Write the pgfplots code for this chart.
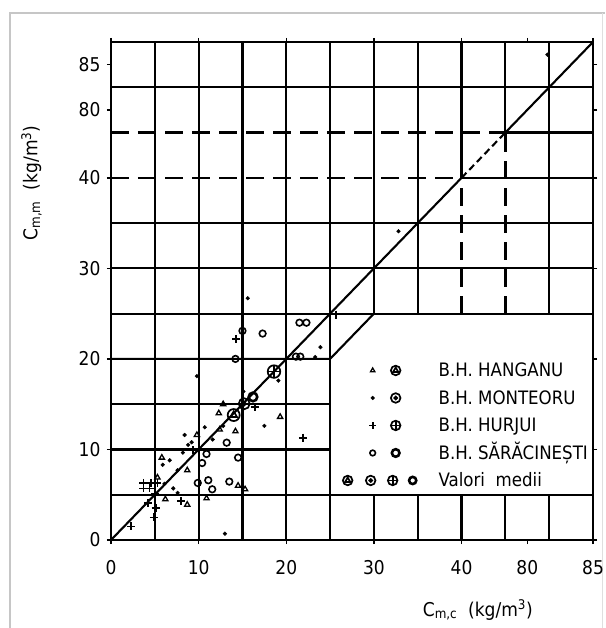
\documentclass[border=0pt]{standalone}
\usepackage{fontspec}
\setmainfont{DejaVu Sans Condensed}
\usepackage{pgfplots}
\pgfplotsset{compat=1.18}

\pgfdeclareplotmark{ctri}{%
  \draw (0,0) circle[radius=\pgfplotmarksize];
  \draw (90:0.62\pgfplotmarksize)--(210:0.62\pgfplotmarksize)--(330:0.62\pgfplotmarksize)--cycle;}
\pgfdeclareplotmark{cdot}{%
  \draw (0,0) circle[radius=\pgfplotmarksize];
  \fill (0,0) circle[radius=0.3\pgfplotmarksize];}
\pgfdeclareplotmark{cplus}{%
  \draw (0,0) circle[radius=\pgfplotmarksize];
  \draw (-\pgfplotmarksize,0)--(\pgfplotmarksize,0) (0,-\pgfplotmarksize)--(0,\pgfplotmarksize);}
\pgfdeclareplotmark{tcirc}{%
  \draw[line width=2.6pt] (0,0) circle[radius=\pgfplotmarksize];}

\tikzset{G/.style={line width=2.1pt, black},
         D/.style={line width=2.3pt, black, dash pattern=on 18pt off 9pt}}
\newcommand{\LT}[1]{\raisebox{0pt}[13.6pt][0pt]{#1}}

\begin{document}
\begin{tikzpicture}
\path[use as bounding box] (-111pt,-88pt) rectangle (494pt,540pt);
\draw[gray!45, line width=2pt] (-101pt,-88pt) -- (-101pt,527pt) -- (494pt,527pt);
\draw[gray!25, line width=1pt] (491pt,527pt) -- (491pt,-88pt);
\begin{axis}[
  at={(0,0)}, anchor=south west,
  scale only axis, width=482pt, height=498pt,
  xmin=0, xmax=55, ymin=0, ymax=55,
  xtick={0,10,20,30,40,47.5,55}, xticklabels={0,10,20,30,40,80,85},
  ytick={0,10,20,30,40,47.5,52.5}, yticklabels={0,10,20,30,40,80,85},
  tick align=outside, major tick length=4pt,
  tick style={line width=1.4pt, black},
  axis line style={line width=2.6pt},
  ticklabel style={font=\fontsize{19}{22}\selectfont},
  xticklabel style={anchor=center, yshift=-24pt},
  yticklabel style={xshift=-3pt},
  xlabel={C\textsubscript{m,c}\ \ (kg/m\textsuperscript{3})},
  ylabel={C\textsubscript{m,m}\ \ (kg/m\textsuperscript{3})},
  label style={font=\fontsize{19}{22}\selectfont},
  xlabel style={at={(axis description cs:0.761,0)}, anchor=center, yshift=-70pt},
  ylabel style={at={(axis description cs:-0.165,0.717)}, anchor=center},
  legend style={draw=none, fill=none, inner sep=0pt,
    at={(axis cs:26.3,19.8)}, anchor=north west,
    font=\fontsize{18.5}{22}\selectfont,
    row sep=8.4pt, column sep=2pt},
  legend cell align=left,
]
% grid
\draw[G] (axis cs:0,5)--(axis cs:55,5);
\draw[G] (axis cs:0,10)--(axis cs:25,10);
\draw[G] (axis cs:0,15)--(axis cs:25,15);
\draw[G] (axis cs:0,20)--(axis cs:25,20)--(axis cs:30,25);
\draw[G] (axis cs:0,25)--(axis cs:55,25);
\draw[G] (axis cs:0,30)--(axis cs:55,30);
\draw[G] (axis cs:0,35)--(axis cs:55,35);
\draw[D] (axis cs:0,40)--(axis cs:40,40);
\draw[G] (axis cs:40,40)--(axis cs:55,40);
\draw[D] (axis cs:0,45)--(axis cs:45,45);
\draw[G] (axis cs:45,45)--(axis cs:55,45);
\draw[G] (axis cs:0,50)--(axis cs:55,50);
\draw[G] (axis cs:5,0)--(axis cs:5,55);
\draw[G] (axis cs:10,0)--(axis cs:10,55);
\draw[G] (axis cs:15,0)--(axis cs:15,55);
\draw[G] (axis cs:20,0)--(axis cs:20,55);
\draw[G] (axis cs:25,0)--(axis cs:25,55);
\draw[G] (axis cs:30,0)--(axis cs:30,5);
\draw[G] (axis cs:30,25)--(axis cs:30,55);
\draw[G] (axis cs:35,0)--(axis cs:35,5);
\draw[G] (axis cs:35,25)--(axis cs:35,55);
\draw[G] (axis cs:40,0)--(axis cs:40,5);
\draw[D] (axis cs:40,25)--(axis cs:40,40);
\draw[G] (axis cs:40,40)--(axis cs:40,55);
\draw[G] (axis cs:45,0)--(axis cs:45,5);
\draw[D] (axis cs:45,25)--(axis cs:45,45);
\draw[G] (axis cs:45,45)--(axis cs:45,55);
\draw[G] (axis cs:50,0)--(axis cs:50,5);
\draw[G] (axis cs:50,25)--(axis cs:50,55);

% 1:1 line
\addplot[forget plot, black, line width=2.1pt] coordinates {(0,0) (40,40)};
\addplot[forget plot, black, line width=2.1pt, dash pattern=on 7pt off 4pt] coordinates {(40,40) (45,45)};
\addplot[forget plot, black, line width=2.1pt] coordinates {(45,45) (55,55)};

% B.H. Hanganu
\addplot[forget plot, only marks, mark=triangle, mark size=3pt, mark options={line width=1.3pt}] coordinates {
(12.8,15.0) (12.3,14.0) (9.8,11.6) (12.4,12.2) (14.2,12.0) (5.8,9.1) (8.7,7.7)
(5.3,6.9) (6.2,4.5) (8.7,3.9) (10.9,4.6) (14.5,6.0) (15.3,5.6) (19.3,13.6)};
% B.H. Monteoru
\addplot[forget plot, only marks, mark=*, mark size=1.9pt] coordinates {
(9.8,18.1) (15.1,16.4) (17.5,12.6) (19.1,17.6) (23.3,20.2) (23.9,21.3) (15.6,26.7)
(32.8,34.1) (49.8,53.6) (10.7,12.45) (8.4,11.6) (8.8,10.5) (12.8,12.6) (11.6,11.1)
(8.2,9.65) (9.2,10.8) (5.9,8.3) (6.7,8.8) (6.1,6.2) (7.1,5.7) (7.6,5.2) (13.0,0.7) (7.6,7.7)};
% B.H. Hurjui
\addplot[forget plot, only marks, mark=+, mark size=4pt, mark options={line width=1.7pt}] coordinates {
(14.3,22.2) (25.7,24.9) (16.4,14.7) (21.9,11.3) (9.35,9.9) (3.7,6.3) (4.6,6.3) (5.3,6.3)
(3.7,5.7) (4.4,5.7) (5.0,5.1) (4.2,4.1) (5.1,3.5) (4.9,2.5) (2.3,1.5) (8.0,4.3)};
% B.H. Saracinesti
\addplot[forget plot, only marks, mark=o, mark size=3.3pt, mark options={line width=1.6pt}] coordinates {
(15.0,23.1) (17.3,22.8) (21.5,24.0) (22.3,24.0) (14.2,20.0) (21.1,20.25) (21.6,20.25)
(13.2,10.75) (10.9,9.5) (14.5,9.1) (10.4,8.5) (9.9,6.3) (11.1,6.6) (11.55,5.6) (13.5,6.45)};
% mean values
\addplot[forget plot, only marks, mark=ctri, mark size=6pt, mark options={line width=1.7pt}] coordinates {(14.0,13.8)};
\addplot[forget plot, only marks, mark=cdot, mark size=5.5pt, mark options={line width=1.7pt}] coordinates {(15.2,15.05)};
\addplot[forget plot, only marks, mark=cplus, mark size=6.3pt, mark options={line width=1.7pt}] coordinates {(18.6,18.6)};
\addplot[forget plot, only marks, mark=tcirc, mark size=4.3pt] coordinates {(16.2,15.8)};

% legend
\addlegendimage{legend image code/.code={
  \draw[line width=1.3pt] plot[only marks, mark=triangle, mark size=2.5pt] coordinates {(0pt,0pt)};
  \draw[line width=1.7pt] plot[only marks, mark=ctri, mark size=4.8pt] coordinates {(23pt,0pt)};
  \path[draw=none] (-3pt,0pt)--(62pt,0pt);}}
\addlegendentry{\LT{B.H. HANGANU}}
\addlegendimage{legend image code/.code={
  \fill (0pt,0pt) circle[radius=1.9pt];
  \draw[line width=1.7pt] plot[only marks, mark=cdot, mark size=4.8pt] coordinates {(23pt,0pt)};
  \path[draw=none] (-3pt,0pt)--(62pt,0pt);}}
\addlegendentry{\LT{B.H. MONTEORU}}
\addlegendimage{legend image code/.code={
  \draw[line width=1.7pt] plot[only marks, mark=+, mark size=3.3pt] coordinates {(0pt,0pt)};
  \draw[line width=1.7pt] plot[only marks, mark=cplus, mark size=4.8pt] coordinates {(23pt,0pt)};
  \path[draw=none] (-3pt,0pt)--(62pt,0pt);}}
\addlegendentry{\LT{B.H. HURJUI}}
\addlegendimage{legend image code/.code={
  \draw[line width=1.6pt] plot[only marks, mark=o, mark size=2.8pt] coordinates {(0pt,0pt)};
  \draw plot[only marks, mark=tcirc, mark size=3.8pt] coordinates {(23pt,0pt)};
  \path[draw=none] (-3pt,0pt)--(62pt,0pt);}}
\addlegendentry{\LT{B.H. SĂRĂCINEȘTI}}
\addlegendimage{legend image code/.code={
  \draw[line width=1.7pt] plot[only marks, mark=ctri, mark size=4.8pt] coordinates {(-25pt,0pt)};
  \draw[line width=1.7pt] plot[only marks, mark=cdot, mark size=4.8pt] coordinates {(-2pt,0pt)};
  \draw[line width=1.7pt] plot[only marks, mark=cplus, mark size=4.8pt] coordinates {(20pt,0pt)};
  \draw plot[only marks, mark=tcirc, mark size=3.6pt] coordinates {(40pt,0pt)};
  \path[draw=none] (-31pt,0pt)--(62pt,0pt);}}
\addlegendentry{\LT{Valori\ \ medii}}
\end{axis}
\end{tikzpicture}
\end{document}
